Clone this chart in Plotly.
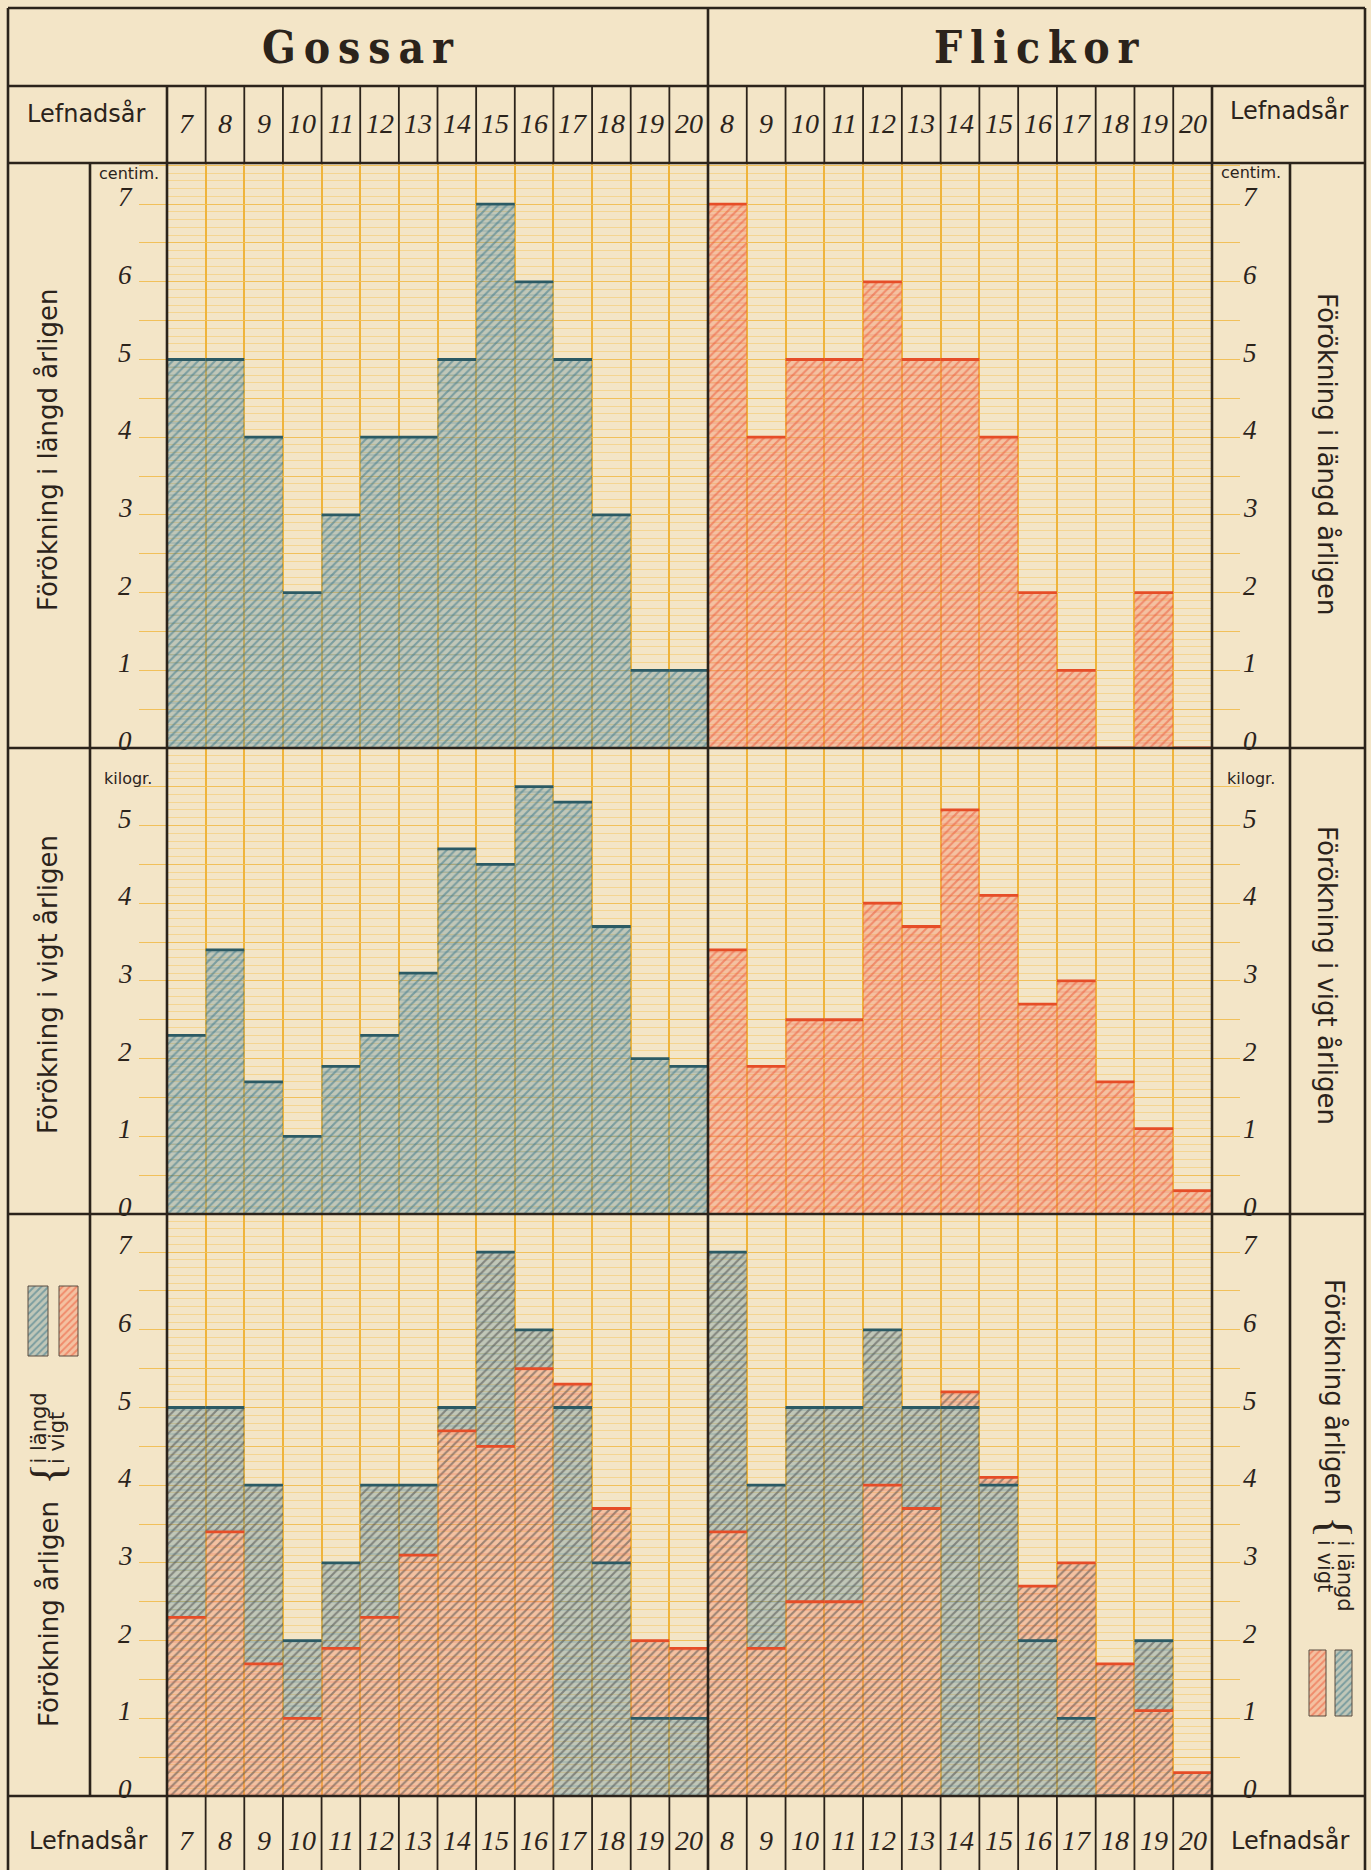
import plotly.graph_objects as go

# ---------------- data ----------------
boys_ages = [7, 8, 9, 10, 11, 12, 13, 14, 15, 16, 17, 18, 19, 20]
girls_ages = [8, 9, 10, 11, 12, 13, 14, 15, 16, 17, 18, 19, 20]

# yearly increase in height (cm)
boys_height_cm = [5, 5, 4, 2, 3, 4, 4, 5, 7, 6, 5, 3, 1, 1]
girls_height_cm = [7, 4, 5, 5, 6, 5, 5, 4, 2, 1, 0, 2, 0]

# yearly increase in weight (kg)
boys_weight_kg = [2.3, 3.4, 1.7, 1.0, 1.9, 2.3, 3.1, 4.7, 4.5, 5.5, 5.3, 3.7, 2.0, 1.9]
girls_weight_kg = [3.4, 1.9, 2.5, 2.5, 4.0, 3.7, 5.2, 4.1, 2.7, 3.0, 1.7, 1.1, 0.3]

height_ticks = [0, 1, 2, 3, 4, 5, 6, 7]
weight_ticks = [0, 1, 2, 3, 4, 5]
combined_ticks = [0, 1, 2, 3, 4, 5, 6, 7]

# ---------------- geometry / style ----------------
W, H = 1371, 1870


def fx(px):
    return px / W


def fy(py):
    return 1 - py / H


X_L, X_LAB, X_G, X_MID, X_F, X_RLAB, X_R = 8, 90, 167, 708, 1212, 1290, 1365
Y_T, Y_TITLE, Y_HEAD, Y_FOOT = 8, 86, 163, 1796
ROWS = [(163, 748), (748, 1214), (1214, 1796)]
UNIT = 77.7  # pixels per cm / kg

PAPER = "#f3e5c7"
INK = "#2b231b"
GRID_V = "#efb43c"
GRID_MAJ = "#f1c05a"
GRID_MIN = "#f4d592"

BLUE_BG = "rgba(110,150,160,0.38)"
BLUE_FG = "#357386"
BLUE_LN = "rgba(53,115,134,0.55)"
BLUE_TOP = "#2b5a64"
RED_BG = "rgba(246,140,105,0.40)"
RED_FG = "#ec5535"
RED_LN = "rgba(236,85,53,0.55)"
RED_TOP = "#e64d27"

SANS = "DejaVu Sans"
SERIF = "Liberation Serif"

fig = go.Figure()
layout = dict(
    width=W, height=H, autosize=False,
    margin=dict(l=0, r=0, t=0, b=0),
    paper_bgcolor=PAPER, plot_bgcolor="rgba(0,0,0,0)",
    showlegend=False, barmode="overlay",
)


def axname(k, kind):
    return kind if k == 1 else f"{kind}{k}"


panel_ages = [boys_ages, girls_ages]
x_domains = [(X_G, X_MID), (X_MID, X_F)]

for r, (top, bot) in enumerate(ROWS):
    for s in range(2):
        k = r * 2 + s + 1
        ages = panel_ages[s]
        x0, x1 = x_domains[s]
        layout[f"xaxis{k}"] = dict(
            domain=[fx(x0), fx(x1)], range=[ages[0] - 0.5, ages[-1] + 0.5],
            tickmode="array", tickvals=[a + 0.5 for a in ages[:-1]],
            showticklabels=False, ticks="", showgrid=True, gridcolor=GRID_V,
            gridwidth=2, zeroline=False, showline=False, fixedrange=True,
            anchor=axname(k, "y"),
        )
        layout[f"yaxis{k}"] = dict(
            domain=[fy(bot), fy(top)], range=[0, (bot - top) / UNIT],
            tickmode="linear", tick0=0, dtick=0.5, ticks="outside", ticklen=27,
            tickwidth=1.4, tickcolor=GRID_MAJ, showticklabels=False,
            showgrid=True, gridcolor=GRID_MAJ, gridwidth=1.3,
            minor=dict(dtick=0.1, showgrid=True, gridcolor=GRID_MIN, gridwidth=0.8, ticks=""),
            zeroline=False, showline=False, fixedrange=True,
            side="left" if s == 0 else "right", anchor=axname(k, "x"),
        )


def bars(ages, vals, k, bg, fg, ln, base=None):
    """Hatched column: diagonal hatch plus a faint horizontal ruling on top."""
    common = dict(x=ages, y=vals, base=base, width=1.0, xaxis=axname(k, "x"),
                  yaxis=axname(k, "y"), hoverinfo="skip")
    diag = go.Bar(marker=dict(color=bg, line=dict(width=0),
                              pattern=dict(shape="/", fgcolor=fg, size=6, solidity=0.36)),
                  **common)
    rule = go.Bar(marker=dict(color="rgba(0,0,0,0)", line=dict(width=0),
                              pattern=dict(shape="-", fgcolor=ln, bgcolor="rgba(0,0,0,0)",
                                           size=8, solidity=0.13)),
                  **common)
    return [diag, rule]


def top_edges(ages, vals, k, color):
    xs, ys = [], []
    for a, v in zip(ages, vals):
        xs += [a - 0.5, a + 0.5, None]
        ys += [v, v, None]
    return go.Scatter(x=xs, y=ys, mode="lines", line=dict(color=color, width=2.8),
                      xaxis=axname(k, "x"), yaxis=axname(k, "y"), hoverinfo="skip",
                      cliponaxis=False)


# boys are shown in blue, girls in red in the two single-measure rows
series = [
    (boys_ages, boys_height_cm, boys_weight_kg, (BLUE_BG, BLUE_FG, BLUE_LN, BLUE_TOP)),
    (girls_ages, girls_height_cm, girls_weight_kg, (RED_BG, RED_FG, RED_LN, RED_TOP)),
]

for s, (ages, hgt, wgt, (bg, fg, ln, edge)) in enumerate(series):
    # row 1: height
    k = 1 + s
    fig.add_traces(bars(ages, hgt, k, bg, fg, ln))
    fig.add_trace(top_edges(ages, hgt, k, edge))
    # row 2: weight
    k = 3 + s
    fig.add_traces(bars(ages, wgt, k, bg, fg, ln))
    fig.add_trace(top_edges(ages, wgt, k, edge))
    # row 3: height (blue) and weight (red) together, the smaller column in front
    k = 5 + s
    w_lower = [b <= a for a, b in zip(hgt, wgt)]
    low = [min(a, b) for a, b in zip(hgt, wgt)]
    rest = [abs(a - b) for a, b in zip(hgt, wgt)]
    low_c = [(RED_BG, RED_FG, RED_LN) if f else (BLUE_BG, BLUE_FG, BLUE_LN) for f in w_lower]
    up_c = [(BLUE_BG, BLUE_FG, BLUE_LN) if f else (RED_BG, RED_FG, RED_LN) for f in w_lower]
    fig.add_traces(bars(ages, low, k, [c[0] for c in low_c], [c[1] for c in low_c],
                        [c[2] for c in low_c]))
    fig.add_traces(bars(ages, rest, k, [c[0] for c in up_c], [c[1] for c in up_c],
                        [c[2] for c in up_c], base=low))
    fig.add_trace(top_edges(ages, hgt, k, BLUE_TOP))
    fig.add_trace(top_edges(ages, wgt, k, RED_TOP))

# ---------------- legend swatches (pixel axes in the label columns) ----------------
layout["xaxis7"] = dict(domain=[fx(X_L), fx(X_LAB)], range=[X_L, X_LAB], visible=False,
                        fixedrange=True, anchor="y7")
layout["yaxis7"] = dict(domain=[fy(Y_FOOT), fy(1214)], range=[Y_FOOT, 1214], visible=False,
                        fixedrange=True, anchor="x7")
layout["xaxis8"] = dict(domain=[fx(X_RLAB), fx(X_R)], range=[X_RLAB, X_R], visible=False,
                        fixedrange=True, anchor="y8")
layout["yaxis8"] = dict(domain=[fy(Y_FOOT), fy(1214)], range=[Y_FOOT, 1214], visible=False,
                        fixedrange=True, anchor="x8")


def swatch(x0, x1, y0, y1, bg, fg, ax):
    return go.Scatter(
        x=[x0, x1, x1, x0, x0], y=[y0, y0, y1, y1, y0], mode="lines", fill="toself",
        fillcolor=bg, fillpattern=dict(shape="/", fgcolor=fg, size=5, solidity=0.4),
        line=dict(color="#5a4d40", width=1), xaxis=f"x{ax}", yaxis=f"y{ax}", hoverinfo="skip",
    )


fig.add_trace(swatch(28, 48, 1286, 1356, BLUE_BG, BLUE_FG, 7))
fig.add_trace(swatch(59, 78, 1286, 1356, RED_BG, RED_FG, 7))
fig.add_trace(swatch(1309, 1326, 1650, 1716, RED_BG, RED_FG, 8))
fig.add_trace(swatch(1335, 1352, 1650, 1716, BLUE_BG, BLUE_FG, 8))

# ---------------- frame lines ----------------
shapes = []


def hline(y, x0=X_L, x1=X_R, w=2.6):
    shapes.append(dict(type="line", xref="paper", yref="paper", x0=fx(x0), x1=fx(x1),
                       y0=fy(y), y1=fy(y), line=dict(color=INK, width=w), layer="above"))


def vline(x, y0, y1, w=2.6):
    shapes.append(dict(type="line", xref="paper", yref="paper", x0=fx(x), x1=fx(x),
                       y0=fy(y0), y1=fy(y1), line=dict(color=INK, width=w), layer="above"))


for y in [Y_T, Y_TITLE, Y_HEAD, ROWS[0][1], ROWS[1][1], Y_FOOT]:
    hline(y)
vline(X_L, Y_T, H)
vline(X_R, Y_T, H)
vline(X_MID, Y_T, H)
vline(X_G, Y_TITLE, H)
vline(X_F, Y_TITLE, H)
vline(X_LAB, Y_HEAD, Y_FOOT)
vline(X_RLAB, Y_HEAD, Y_FOOT)

# column separators in the two "Lefnadsår" rows
for s, ages in enumerate(panel_ages):
    for kx, (ya, yb) in [(1 + s, (Y_TITLE, Y_HEAD)), (5 + s, (Y_FOOT, H))]:
        for a in ages[:-1]:
            shapes.append(dict(type="line", xref=axname(kx, "x"), yref="paper",
                               x0=a + 0.5, x1=a + 0.5, y0=fy(ya), y1=fy(yb),
                               line=dict(color=INK, width=1.8), layer="above"))

# ---------------- text ----------------
ann = []


def text(x, y, t, size, family=SANS, angle=0, xanchor="center", yanchor="middle",
         xref="paper", yref="paper", yshift=0, style="normal", weight="normal"):
    ann.append(dict(x=x, y=y, xref=xref, yref=yref, text=t, showarrow=False,
                    textangle=angle, xanchor=xanchor, yanchor=yanchor, yshift=yshift,
                    font=dict(family=family, size=size, color=INK, style=style, weight=weight)))


THIN = "\u2009"
text(fx((X_L + X_MID) / 2), fy(47), THIN.join("Gossar"), 44,
     family="DejaVu Serif Condensed, DejaVu Serif", weight="bold")
text(fx((X_MID + X_R) / 2), fy(47), THIN.join("Flickor"), 44,
     family="DejaVu Serif Condensed, DejaVu Serif", weight="bold")

text(fx(86), fy(114), "Lefnadsår", 24)
text(fx(1289), fy(110), "Lefnadsår", 24)
text(fx(88), fy(1840), "Lefnadsår", 24)
text(fx(1290), fy(1840), "Lefnadsår", 24)

for s, ages in enumerate(panel_ages):
    for a in ages:
        text(a, fy(124), str(a), 28, family=SERIF, xref=axname(1 + s, "x"), style="italic")
        text(a, fy(1840), str(a), 28, family=SERIF, xref=axname(5 + s, "x"), style="italic")

# scale numbers
for r, ticks in enumerate([height_ticks, weight_ticks, combined_ticks]):
    for t in ticks:
        text(fx(125), t, str(t), 27, family=SERIF, yref=axname(r * 2 + 1, "y"),
             yshift=7, style="italic")
        text(fx(1250), t, str(t), 27, family=SERIF, yref=axname(r * 2 + 2, "y"),
             yshift=7, style="italic")

text(fx(129), fy(174), "centim.", 16)
text(fx(1251), fy(172), "centim.", 16)
text(fx(128), fy(778), "kilogr.", 16)
text(fx(1251), fy(778), "kilogr.", 16)

# side captions
text(fx(48), fy(450), "Förökning i längd årligen", 26, angle=-90)
text(fx(1327), fy(454), "Förökning i längd årligen", 26, angle=90)
text(fx(48), fy(985), "Förökning i vigt årligen", 26, angle=-90)
text(fx(1327), fy(975), "Förökning i vigt årligen", 26, angle=90)

text(fx(49), fy(1614), "Förökning årligen", 26, angle=-90)
text(fx(47), fy(1474), "{", 46, family=SERIF, angle=-90)
text(fx(38), fy(1466), "i längd", 21, angle=-90, yanchor="bottom")
text(fx(57), fy(1466), "i vigt", 21, angle=-90, yanchor="bottom")

text(fx(1334), fy(1392), "Förökning årligen", 26, angle=90)
text(fx(1335), fy(1527), "{", 46, family=SERIF, angle=90)
text(fx(1345), fy(1538), "i längd", 21, angle=90, yanchor="top")
text(fx(1325), fy(1538), "i vigt", 21, angle=90, yanchor="top")

layout["shapes"] = shapes
layout["annotations"] = ann
fig.update_layout(**layout)

fig.write_html("out.html")
